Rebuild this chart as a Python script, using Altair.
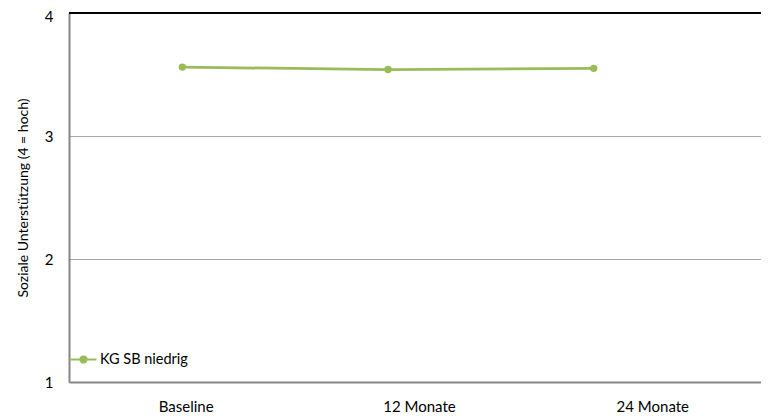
import altair as alt
import pandas as pd

categories = ["Baseline", "12 Monate", "24 Monate"]
values = [3.56, 3.54, 3.55]
series = "KG SB niedrig"

df = pd.DataFrame({
    "idx": list(range(len(categories))),
    "Zeitpunkt": categories,
    "Wert": values,
    "Gruppe": [series] * len(categories),
})

GREEN = "#9BBB59"
FONT = "Lato"
W, H = 700, 369

y_scale = alt.Scale(domain=[1, 4], nice=False, zero=False)
y_axis = alt.Axis(
    values=[1, 2, 3, 4], format="d", title="Soziale Unterstützung (4 = hoch)",
    grid=True, gridColor="#A6A6A6", gridWidth=1, ticks=False,
    domainColor="#868686", domainWidth=2, labelPadding=16,
    labelOffset={"condition": {"test": "datum.value == 4", "value": 3}, "value": 0},
    labelFontSize=15, labelColor="#000000", labelFont=FONT,
    titleFont=FONT, titleFontSize=14, titleFontWeight="normal", titleColor="#000000",
    titlePadding=14,
)

axis_layer = alt.Chart(df).mark_point(opacity=0).encode(
    x=alt.X(
        "Zeitpunkt:N", sort=categories,
        scale=alt.Scale(paddingInner=0, paddingOuter=0),
        axis=alt.Axis(
            title=None, labelAngle=0, ticks=False, domainColor="#868686", domainWidth=2,
            labelFont=FONT, labelFontSize=15, labelColor="#000000", labelPadding=17,
        ),
    ),
    y=alt.Y("Wert:Q", scale=y_scale, axis=y_axis),
)

line = alt.Chart(df).mark_line(
    color=GREEN, strokeWidth=2.75,
    point=alt.OverlayMarkDef(color=GREEN, size=55, filled=True, opacity=1),
).encode(
    x=alt.X("idx:Q", scale=alt.Scale(domain=[-0.551, 2.852], nice=False, zero=False), axis=None),
    y=alt.Y("Wert:Q", scale=y_scale, axis=y_axis),
    color=alt.Color(
        "Gruppe:N",
        scale=alt.Scale(range=[GREEN]),
        legend=alt.Legend(
            title=None, orient="none", legendX=0, legendY=332,
            symbolType="M-1,0H1M-0.23,0A0.23,0.23,0,1,1,0.23,0A0.23,0.23,0,1,1,-0.23,0Z",
            symbolSize=676, symbolStrokeWidth=2.2, symbolFillColor=GREEN,
            symbolStrokeColor=GREEN, labelFont=FONT, labelFontSize=14.5,
            labelColor="#000000", labelOffset=2, padding=0,
        ),
    ),
)

top_border = alt.Chart(df).mark_rule(color="#000000", strokeWidth=1.5).encode(
    y=alt.datum(4), x=alt.value(0), x2=alt.value(W),
)

chart = alt.layer(axis_layer, line, top_border).resolve_scale(x="independent").properties(
    width=W, height=H,
    autosize=alt.AutoSizeParams(type="none"),
    padding={"left": 61, "top": 5, "right": -8, "bottom": 34},
).configure_view(stroke=None)

chart.save("out.html", embed_options={"renderer": "svg", "actions": False})
